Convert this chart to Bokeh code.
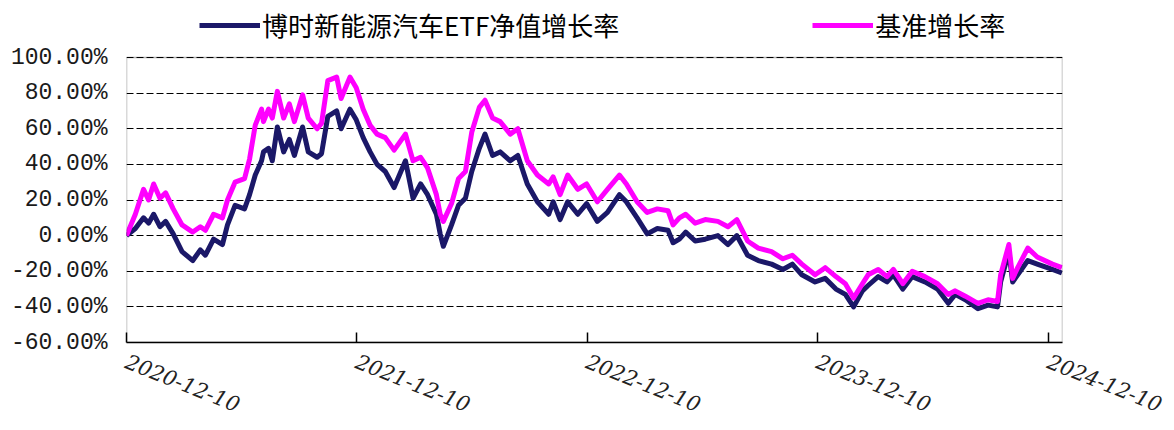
import datetime as dt
import pandas as pd
from bokeh.plotting import figure
from bokeh.models import (FixedTicker, PrintfTickFormatter, DatetimeTickFormatter,
                          Legend, LegendItem, Range1d, ColumnDataSource, BoxAnnotation)
from bokeh.embed import file_html
from bokeh.resources import INLINE

dates = [
    "2020-12-10", "2020-12-24", "2021-01-06", "2021-01-14", "2021-01-22", "2021-02-01",
    "2021-02-10", "2021-02-22", "2021-03-08", "2021-03-25", "2021-04-06", "2021-04-14",
    "2021-04-27", "2021-05-11", "2021-05-19", "2021-05-31", "2021-06-15", "2021-06-23",
    "2021-07-02", "2021-07-12", "2021-07-15", "2021-07-23", "2021-07-29", "2021-08-06",
    "2021-08-16", "2021-08-25", "2021-09-02", "2021-09-15", "2021-09-24", "2021-10-08",
    "2021-10-15", "2021-10-25", "2021-11-08", "2021-11-15", "2021-11-29", "2021-12-09",
    "2021-12-20", "2021-12-31", "2022-01-11", "2022-01-24", "2022-02-07", "2022-02-25",
    "2022-03-09", "2022-03-21", "2022-04-01", "2022-04-15", "2022-04-21", "2022-04-26",
    "2022-05-09", "2022-05-20", "2022-05-31", "2022-06-10", "2022-06-22", "2022-07-01",
    "2022-07-13", "2022-07-25", "2022-08-10", "2022-08-22", "2022-09-06", "2022-09-22",
    "2022-10-10", "2022-10-17", "2022-10-28", "2022-11-09", "2022-11-25", "2022-12-09",
    "2022-12-26", "2023-01-11", "2023-01-30", "2023-02-10", "2023-02-27", "2023-03-15",
    "2023-03-31", "2023-04-17", "2023-04-25", "2023-05-05", "2023-05-15", "2023-05-30",
    "2023-06-15", "2023-07-05", "2023-07-21", "2023-08-04", "2023-08-21", "2023-09-07",
    "2023-09-28", "2023-10-16", "2023-10-31", "2023-11-15", "2023-12-06", "2023-12-22",
    "2024-01-08", "2024-01-23", "2024-02-05", "2024-02-19", "2024-02-28", "2024-03-15",
    "2024-03-29", "2024-04-08", "2024-04-23", "2024-05-08", "2024-05-28", "2024-06-17",
    "2024-07-04", "2024-07-15", "2024-07-31", "2024-08-20", "2024-09-05", "2024-09-20",
    "2024-09-25", "2024-10-08", "2024-10-14", "2024-10-22", "2024-11-07", "2024-11-22",
    "2024-12-16", "2024-12-31",
]

fund_growth = [
    0, 4, 10, 7, 12, 5,
    8, 1, -9, -14, -8, -11,
    -2, -5, 6, 17, 15, 23,
    34, 42, 47, 49, 42, 61,
    47, 54, 45, 61, 47, 44,
    46, 67, 70, 60, 71, 65,
    55, 47, 40, 36, 27, 42,
    21, 29, 23, 12, 1, -6,
    6, 17, 21, 36, 49, 57,
    45, 47, 42, 45, 29, 19,
    12, 19, 9, 19, 12, 18,
    8, 13, 23, 19, 10, 1,
    4, 3, -4, -2, 2, -3,
    -2, 0, -5, 0, -11, -14,
    -16, -19, -16, -22, -26, -24,
    -30, -33, -40, -31, -28, -23,
    -26, -22, -30, -23, -26, -30,
    -38, -33, -36, -41, -39, -40,
    -26, -9, -26, -22, -14, -16,
    -19, -21,
]

bench_growth = [
    0, 12, 26, 20, 29, 21,
    24, 15, 6, 2, 5, 3,
    12, 10, 20, 30, 32, 43,
    62, 71, 64, 71, 66, 81,
    66, 74, 64, 79, 66, 60,
    63, 87, 89, 77, 89, 83,
    71, 62, 57, 55, 48, 57,
    42, 44, 38, 23, 12, 8,
    18, 32, 36, 58, 72, 76,
    66, 64, 57, 60, 42, 34,
    29, 33, 23, 34, 26, 29,
    19, 26, 34, 29, 19, 13,
    15, 14, 6, 10, 12, 7,
    9, 8, 5, 9, -3, -7,
    -9, -13, -11, -16, -22, -18,
    -23, -27, -35, -27, -22, -19,
    -23, -19, -27, -20, -23, -27,
    -33, -31, -34, -38, -36, -37,
    -22, -5, -24, -18, -7, -12,
    -16, -18,
]

tick_dates = ["2020-12-10", "2021-12-10", "2022-12-10", "2023-12-10", "2024-12-10"]
y_ticks = [-60, -40, -20, 0, 20, 40, 60, 80, 100]
series_names = ["博时新能源汽车ETF净值增长率", "基准增长率"]

NAVY = "#1b1868"
MAGENTA = "#ff00ff"

X_START = dt.datetime(2020, 12, 10)
X_END = dt.datetime(2025, 1, 1)
Y_MIN, Y_MAX = -60, 100
Y_TOP = 132  # headroom above the plot box for the legend

x = pd.to_datetime(dates)
src = ColumnDataSource(dict(x=x, fund=fund_growth, bench=bench_growth))

p = figure(width=1166, height=428, x_axis_type="datetime",
           x_range=Range1d(X_START, X_END),
           y_range=Range1d(Y_MIN, Y_TOP),
           output_backend="svg", toolbar_location=None,
           min_border_left=126, min_border_right=104,
           min_border_top=0, min_border_bottom=86)

p.background_fill_color = "white"
p.border_fill_color = "white"
p.outline_line_color = None

# plot box (from -60% to 100%)
p.add_layout(BoxAnnotation(left=X_START, right=X_END, bottom=Y_MIN, top=Y_MAX,
                           fill_alpha=0, line_color="black", line_width=1.5))

r1 = p.line("x", "fund", source=src, line_color=NAVY, line_width=5, line_join="round")
r2 = p.line("x", "bench", source=src, line_color=MAGENTA, line_width=5, line_join="round")

# x axis
tick_ms = [pd.Timestamp(d).value // 10**6 for d in tick_dates]
p.xaxis.ticker = FixedTicker(ticks=tick_ms)
fmt = "%Y-%m-%d"
p.xaxis.formatter = DatetimeTickFormatter(days=fmt, months=fmt, years=fmt)
p.xaxis.major_label_orientation = -0.38
p.xaxis.major_label_text_font = "DejaVu Serif"
p.xaxis.major_label_text_font_style = "italic"
p.xaxis.major_label_text_font_size = "21px"
p.xaxis.major_label_text_color = "#222222"
p.xaxis.major_label_standoff = 18
p.xaxis.major_tick_in = 10
p.xaxis.major_tick_out = 0
p.xaxis.major_tick_line_color = "black"
p.xaxis.major_tick_line_width = 1.5
p.xaxis.minor_tick_line_color = None
p.xaxis.axis_line_color = "black"
p.xaxis.axis_line_width = 1.5

# y axis
p.yaxis.ticker = FixedTicker(ticks=y_ticks)
p.yaxis.formatter = PrintfTickFormatter(format="%.2f%%")
p.yaxis.major_label_text_font = "Liberation Mono"
p.yaxis.major_label_text_font_size = "23px"
p.yaxis.major_label_text_color = "#1a1a1a"
p.yaxis.major_label_standoff = 13
p.yaxis.major_tick_line_color = None
p.yaxis.minor_tick_line_color = None
p.yaxis.axis_line_color = None

p.xgrid.grid_line_color = None
p.ygrid.ticker = FixedTicker(ticks=y_ticks)
p.ygrid.grid_line_color = "black"
p.ygrid.grid_line_dash = "7 3"
p.ygrid.grid_line_width = 1.2

legend = Legend(items=[LegendItem(label=series_names[0], renderers=[r1]),
                       LegendItem(label=series_names[1], renderers=[r2])],
                location=(73, 299), orientation="horizontal",
                label_text_font="Noto Sans CJK SC", label_text_font_size="26px",
                label_text_color="black", glyph_width=61, glyph_height=28,
                label_height=28, label_standoff=2,
                padding=0, margin=0, spacing=193,
                border_line_alpha=0, background_fill_alpha=0)
p.add_layout(legend, "center")

open("out.html", "w").write(file_html(p, INLINE))
